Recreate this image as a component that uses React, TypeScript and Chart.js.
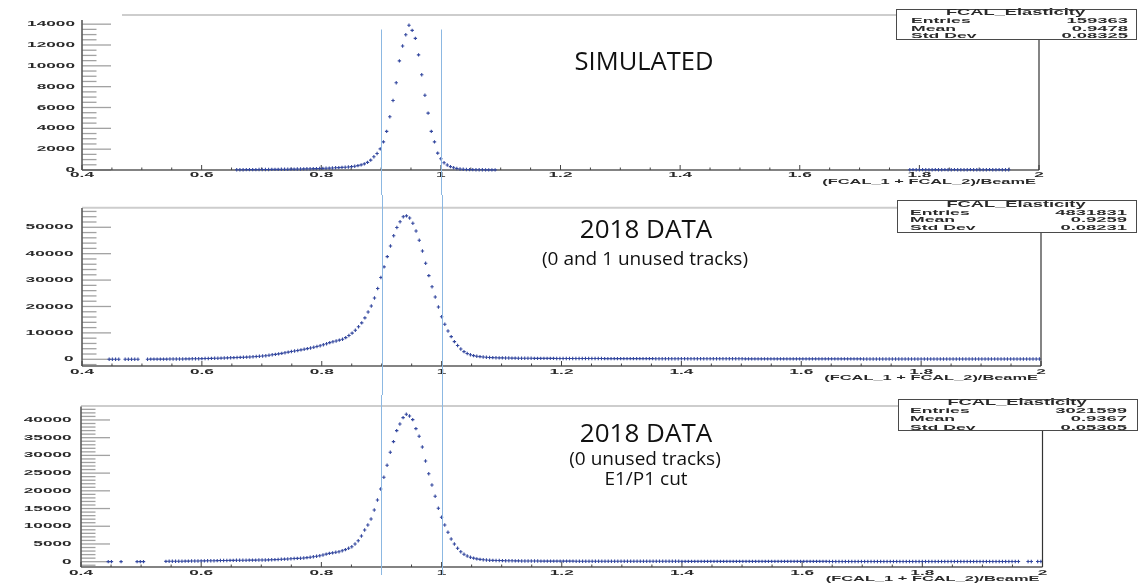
import React, { useEffect, useRef } from "react";
import { Chart, registerables } from "chart.js";

Chart.register(...registerables);

// ---------------- data ----------------
const X_MIN = 0.4;
const X_MAX = 2.0;
const N_BINS = 300;
const X_MAJOR = [0.4, 0.6, 0.8, 1.0, 1.2, 1.4, 1.6, 1.8, 2.0];
const X_MAJOR_LABELS = ["0.4", "0.6", "0.8", "1", "1.2", "1.4", "1.6", "1.8", "2"];
const X_MINOR_STEP = 0.05;
const CUT_VALUES = [0.9, 1.0];
const X_TITLE = "(FCAL_1 + FCAL_2)/BeamE";
const HIST_NAME = "FCAL_Elasticity";
const STAT_LABELS = ["Entries", "Mean", "Std Dev"];
const STAT_SIM = ["159363", "0.9478", "0.08325"];
const STAT_DATA01 = ["4831831", "0.9259", "0.08231"];
const STAT_DATA0 = ["3021599", "0.9367", "0.05305"];

const SIM_Y_TICKS = [0, 2000, 4000, 6000, 8000, 10000, 12000, 14000];
const DATA01_Y_TICKS = [0, 10000, 20000, 30000, 40000, 50000];
const DATA0_Y_TICKS = [0, 5000, 10000, 15000, 20000, 25000, 30000, 35000, 40000];

// SIMULATED: bins 48..129
const SIM_FIRST_BIN = 48;
const SIM_COUNTS: (number | null)[] = [
  25, 28, 30, 32, 35, 38, 40, 43, 46, 50, 53, 56,
  60, 64, 68, 72, 76, 82, 88, 95,
  102, 108, 114, 120, 128, 136, 145, 155, 166, 178,
  195, 210, 228, 248, 270, 295, 325, 365, 420, 490, 590, 730, 950, 1270,
  1590, 2030, 2700, 3710, 5110, 6670, 8380, 10480, 11900, 12980, 13900, 13400,
  12640, 11050, 9140, 7170, 5460, 3710, 2700, 1620, 1080, 700, 480, 320, 220, 150, 100, 70,
  50, 40, 32, 26, 22, 18, 15, 12, 10, 8,
];
// SIMULATED: high-side entries, bins 259..290
const SIM_HIGH_FIRST_BIN = 259;
const SIM_HIGH_COUNTS: (number | null)[] = [
  28, 32, 30, 26, 34, 30, 29, 31, 35, 27, 30, 33, 28, 30, 32, 29,
  31, 27, 30, 34, 29, 28, 31, 30, 26, 32, 30, 29, 33, 28, 30, 27,
];

// 2018 DATA (0 and 1 unused tracks): bins 8..299
const DATA01_FIRST_BIN = 8;
const DATA01_COUNTS: (number | null)[] = [
  30, 30, 30, 30, null, 30, 30, 30, 30, 30, null, null,
  40, 45, 50, 55, 60, 70, 80, 90, 100, 110, 120, 130, 145, 160, 180, 200,
  230, 250, 280, 310, 340, 380,
  410, 450, 490, 530, 580, 620, 670, 710, 760, 810, 870, 960, 1060, 1160, 1260, 1360,
  1530, 1700, 1880, 2060, 2250, 2450, 2700, 2950, 3150, 3350, 3550, 3800,
  4050, 4300, 4550, 4850, 5150, 5500, 5900, 6300, 6650, 6950, 7250, 7600,
  8200, 9000, 9900, 11000, 12300, 13800, 15700, 17900, 20200, 23200,
  26800, 31000, 35000, 38900, 42900, 46800, 49900, 52100, 54000, 54300, 53500, 51500,
  48600, 45100, 41000, 36400, 31700, 27500, 23600, 19800, 16100, 13300, 10700, 8600, 6700, 5200, 3900, 2900,
  2200, 1700, 1400, 1150, 1000, 880, 780, 700, 640, 590, 550, 520, 490, 470, 450, 430, 415, 400, 390, 380,
  372, 366, 361, 352, 349, 344, 338, 336, 328, 326,
  321, 314, 313, 306, 305, 299, 297, 290, 289, 284,
  283, 278, 276, 271, 271, 266, 263, 260, 258, 254,
  252, 249, 249, 245, 243, 241, 240, 237, 236, 233,
  232, 229, 228, 225, 224, 221, 220, 218, 215, 214,
  212, 209, 208, 205, 204, 202, 199, 198, 196, 193,
  192, 189, 188, 186, 183, 182, 180, 177, 176, 175,
  173, 173, 171, 170, 169, 167, 167, 166, 164, 164,
  163, 161, 161, 160, 158, 158, 157, 155, 155, 154,
  153, 151, 151, 150, 148, 148, 147, 145, 145, 144,
  143, 141, 141, 140, 138, 138, 137, 135, 135, 134,
  133, 131, 131, 130, 128, 128, 127, 125, 125, 124,
  123, 121, 121, 120, 118, 118, 117, 115, 115, 114,
  113, 111, 111, 110, 108, 108, 107, 105, 105, 104,
  103, 101, 101, 100, 98, 98, 97, 95, 95, 94,
  93, 91, 91, 90, 88, 88, 87, 85, 85, 84,
];

// 2018 DATA (0 unused tracks, E1/P1 cut): bins 8..299
const DATA0_FIRST_BIN = 8;
const DATA0_COUNTS: (number | null)[] = [
  30, 30, null, null, 30, null, null, null, null, 30, 30, 30,
  null, null, null, null, null, null,
  100, 105, 110, 120, 130, 140, 150, 160, 175, 190,
  210, 225, 240, 255, 270, 285, 300, 315, 330, 345,
  360, 375, 390, 400, 410, 420, 430, 440, 450, 460, 470, 480,
  510, 550, 590, 630, 670, 710, 760, 820, 880, 930, 980, 1060, 1150, 1240,
  1380, 1530, 1690, 1900, 2130, 2350, 2500, 2650, 2820, 3100, 3390, 3780, 4230,
  5000, 5930, 7260, 8950, 10360, 12050, 14600,
  17420, 20520, 23830, 27210, 30880, 33880, 36980, 38870, 40650, 41610, 41130, 40090,
  37550, 35400, 32380, 28430, 24840, 21650, 18460, 15070, 12530, 10360, 8300, 6410, 5000, 3780, 2820,
  2100, 1600, 1250, 1000, 800, 650, 550, 470, 420, 380, 350, 320, 300, 280, 260, 245, 230, 220, 210, 200, 190,
  182, 178, 176, 171, 169, 165, 163, 160, 157, 155,
  152, 150, 149, 146, 144, 142, 140, 139, 137, 135,
  133, 132, 130, 129, 127, 126, 124, 123, 121, 120,
  119, 118, 116, 115, 114, 113, 112, 111, 110, 109,
  108, 107, 106, 105, 104, 103, 102, 101, 100, 99,
  98, 98, 97, 96, 95, 95, 94, 93, 92, 92,
  91, 90, 90, 89, 88, 88, 87, 86, 86, 85,
  85, 84, 83, 83, 82, 82, 81, 81, 80, 80,
  79, 79, 78, 78, 77, 77, 76, 76, 75, 75,
  74, 74, 74, 73, 73, 72, 72, 72, 71, 71,
  70, 70, 70, 69, 69, 69, 68, 68, 68, 67,
  67, 67, 66, 66, 66, 65, 65, 65, 64, 64,
  64, 63, 63, 63, 62, 62, 62, 61, 61, 61,
  60, 60, 60, 59, 59, 59, 58, 58, 58, 57,
  57, 57, 56, 56, 56, 55, 55, 55, 54, 54,
  54, 53, 53, null, null, 52, 52, null, 51, 51,
];

// ---------------- styling / layout ----------------
const PAGE_W = 1138;
const PAGE_H = 588;
const MARKER = "#34489f";
const CUT_COLOR = "#8cb8e2";
const FRAME_GRAY = "#cdcdcd";
const TICK_GRAY = "#a2a2a2";
const AXIS_DARK = "#5a5a5a";
const TEXT_DARK = "#2a2a2a";
const ROOT_FONT = '"Liberation Sans", Arial, Helvetica, sans-serif';
const SLIDE_FONT = '"Open Sans", "Noto Sans", sans-serif';

type Segment = { first: number; counts: (number | null)[] };
type PanelSpec = {
  canvasTop: number;
  canvasHeight: number;
  area: { left: number; right: number; top: number; bottom: number };
  yMin: number;
  yMax: number;
  yMajor: number[];
  yMinorStep: number;
  yLabelRight: number;
  frameTopX0: number;
  frameTopY: number;
  box: { left: number; top: number; right: number; bottom: number; rows: number[]; labelX: number; valueX: number };
  stats: string[];
  xLabelY: number;
  xTitleY: number;
  cutTop: number;
  cutBottom: number;
  texts: { text: string; x: number; y: number; size: number }[];
  segments: Segment[];
};

const PANELS: PanelSpec[] = [
  {
    canvasTop: 0,
    canvasHeight: 195,
    area: { left: 82, right: 1039, top: 20, bottom: 170 },
    yMin: 0,
    yMax: 14400,
    yMajor: SIM_Y_TICKS,
    yMinorStep: 500,
    yLabelRight: 75,
    frameTopX0: 122,
    frameTopY: 15,
    box: { left: 896, top: 9, right: 1137, bottom: 40, rows: [12.7, 20.7, 28.3, 36], labelX: 911, valueX: 1128 },
    stats: STAT_SIM,
    xLabelY: 174.5,
    xTitleY: 181.5,
    cutTop: 29.5,
    cutBottom: 195,
    texts: [{ text: "SIMULATED", x: 644, y: 70, size: 25.5 }],
    segments: [
      { first: SIM_FIRST_BIN, counts: SIM_COUNTS },
      { first: SIM_HIGH_FIRST_BIN, counts: SIM_HIGH_COUNTS },
    ],
  },
  {
    canvasTop: 195,
    canvasHeight: 200,
    area: { left: 82, right: 1041, top: 208, bottom: 366 },
    yMin: -2540,
    yMax: 57300,
    yMajor: DATA01_Y_TICKS,
    yMinorStep: 2000,
    yLabelRight: 73.5,
    frameTopX0: 82,
    frameTopY: 207.7,
    box: { left: 897, top: 200, right: 1137, bottom: 233, rows: [204.3, 212.3, 220, 227.7], labelX: 910, valueX: 1127 },
    stats: STAT_DATA01,
    xLabelY: 371.5,
    xTitleY: 378,
    cutTop: 195,
    cutBottom: 395,
    texts: [
      { text: "2018 DATA", x: 646, y: 238, size: 26 },
      { text: "(0 and 1 unused tracks)", x: 645, y: 265, size: 19 },
    ],
    segments: [{ first: DATA01_FIRST_BIN, counts: DATA01_COUNTS }],
  },
  {
    canvasTop: 395,
    canvasHeight: 193,
    area: { left: 81, right: 1042.5, top: 406.5, bottom: 567 },
    yMin: -1500,
    yMax: 43800,
    yMajor: DATA0_Y_TICKS,
    yMinorStep: 1000,
    yLabelRight: 71.7,
    frameTopX0: 81,
    frameTopY: 406,
    box: { left: 898, top: 399, right: 1138, bottom: 431, rows: [402.7, 411, 419, 427.3], labelX: 910, valueX: 1127 },
    stats: STAT_DATA0,
    xLabelY: 573,
    xTitleY: 578.5,
    cutTop: 395,
    cutBottom: 575,
    texts: [
      { text: "2018 DATA", x: 646, y: 441.5, size: 26 },
      { text: "(0 unused tracks)", x: 645, y: 465, size: 19 },
      { text: "E1/P1 cut", x: 646, y: 485, size: 19 },
    ],
    segments: [{ first: DATA0_FIRST_BIN, counts: DATA0_COUNTS }],
  },
];

// ---------------- helpers ----------------
function binCenter(i: number) {
  return X_MIN + (i + 0.5) * ((X_MAX - X_MIN) / N_BINS);
}

function toPoints(segments: Segment[]) {
  const pts: { x: number; y: number }[] = [];
  for (const s of segments) {
    s.counts.forEach((c, k) => {
      if (c !== null && c !== undefined) pts.push({ x: binCenter(s.first + k), y: c });
    });
  }
  return pts;
}

function line(ctx: CanvasRenderingContext2D, x0: number, y0: number, x1: number, y1: number) {
  ctx.beginPath();
  ctx.moveTo(x0, y0);
  ctx.lineTo(x1, y1);
  ctx.stroke();
}

function stretched(
  ctx: CanvasRenderingContext2D,
  text: string,
  x: number,
  y: number,
  align: CanvasTextAlign,
  size: number,
  sx: number
) {
  ctx.save();
  ctx.font = `bold ${size}px ${ROOT_FONT}`;
  ctx.fillStyle = TEXT_DARK;
  ctx.textAlign = align;
  ctx.textBaseline = "middle";
  ctx.translate(x, y);
  ctx.scale(sx, 1);
  ctx.fillText(text, 0, 0);
  ctx.restore();
}

function makePlugin(p: PanelSpec) {
  const oy = p.canvasTop;
  return {
    id: "rootFrame",
    beforeDatasetsDraw(chart: any) {
      const { ctx, chartArea: a, scales } = chart;
      const xs = scales.x;
      const ys = scales.y;
      ctx.save();
      // top frame line
      ctx.strokeStyle = FRAME_GRAY;
      ctx.lineWidth = 2;
      line(ctx, p.frameTopX0, p.frameTopY - oy, p.box.left, p.frameTopY - oy);

      // y ticks (inside the frame)
      ctx.strokeStyle = TICK_GRAY;
      ctx.lineWidth = 1.3;
      const start = Math.ceil(p.yMin / p.yMinorStep) * p.yMinorStep;
      for (let v = start; v <= p.yMax + 1e-6; v += p.yMinorStep) {
        const y = ys.getPixelForValue(v);
        const major = p.yMajor.includes(v);
        line(ctx, a.left, y, a.left + (major ? 29 : 14.5), y);
      }
      // y axis
      ctx.strokeStyle = AXIS_DARK;
      ctx.lineWidth = 1.6;
      line(ctx, a.left, a.top, a.left, a.bottom);
      // y labels
      for (const v of p.yMajor) {
        stretched(ctx, String(v), p.yLabelRight, ys.getPixelForValue(v), "right", 7.5, 2.3);
      }

      // x axis
      ctx.strokeStyle = AXIS_DARK;
      ctx.lineWidth = 1.4;
      line(ctx, a.left, a.bottom, a.right, a.bottom);
      ctx.strokeStyle = "#444";
      ctx.lineWidth = 1;
      for (let k = 0; X_MIN + k * X_MINOR_STEP <= X_MAX + 1e-9; k++) {
        const v = X_MIN + k * X_MINOR_STEP;
        const x = xs.getPixelForValue(v);
        const major = k % 4 === 0;
        line(ctx, x, a.bottom, x, a.bottom - (major ? 5 : 2.5));
      }
      X_MAJOR.forEach((v, i) => {
        stretched(ctx, X_MAJOR_LABELS[i], xs.getPixelForValue(v), p.xLabelY - oy, "center", 7.5, 2.3);
      });
      stretched(ctx, X_TITLE, a.right - 3, p.xTitleY - oy, "right", 8, 2.05);
      ctx.restore();
    },
    afterDatasetsDraw(chart: any) {
      const { ctx, chartArea: a, scales } = chart;
      const xs = scales.x;
      ctx.save();
      // right frame line
      ctx.strokeStyle = "#333";
      ctx.lineWidth = 1.2;
      line(ctx, a.right, p.box.bottom - oy, a.right, a.bottom);

      // stats box
      const b = p.box;
      ctx.fillStyle = "#ffffff";
      ctx.fillRect(b.left, b.top - oy, b.right - b.left, b.bottom - b.top);
      ctx.strokeStyle = "#4a4a4a";
      ctx.lineWidth = 1;
      ctx.strokeRect(b.left + 0.5, b.top - oy + 0.5, b.right - b.left - 1, b.bottom - b.top - 1);
      stretched(ctx, HIST_NAME, (b.left + b.right) / 2 - 1, b.rows[0] - oy, "center", 8.5, 2.15);
      STAT_LABELS.forEach((lab, i) => {
        stretched(ctx, lab, b.labelX, b.rows[i + 1] - oy, "left", 8, 2.2);
        stretched(ctx, p.stats[i], b.valueX, b.rows[i + 1] - oy, "right", 8, 2.3);
      });

      // cut lines
      ctx.strokeStyle = CUT_COLOR;
      ctx.lineWidth = 1;
      for (const c of CUT_VALUES) {
        const x = Math.round(xs.getPixelForValue(c)) + 0.5;
        line(ctx, x, p.cutTop - oy, x, p.cutBottom - oy);
      }

      // slide annotations
      ctx.fillStyle = "#111";
      ctx.textAlign = "center";
      ctx.textBaseline = "alphabetic";
      for (const t of p.texts) {
        ctx.font = `${t.size}px ${SLIDE_FONT}`;
        ctx.fillText(t.text, t.x, t.y - oy);
      }
      ctx.restore();
    },
  };
}

function Panel({ spec }: { spec: PanelSpec }) {
  const ref = useRef<HTMLCanvasElement | null>(null);
  useEffect(() => {
    if (!ref.current) return;
    const a = spec.area;
    const chart = new Chart(ref.current, {
      type: "scatter",
      data: {
        datasets: [
          {
            data: toPoints(spec.segments),
            pointStyle: "cross",
            pointRadius: 1.7,
            pointHoverRadius: 1.7,
            borderColor: MARKER,
            backgroundColor: MARKER,
            borderWidth: 1.1,
            showLine: false,
            clip: false as any,
          },
        ],
      },
      options: {
        responsive: false,
        animation: false,
        events: [],
        layout: {
          padding: {
            left: a.left,
            right: PAGE_W - a.right,
            top: a.top - spec.canvasTop,
            bottom: spec.canvasTop + spec.canvasHeight - a.bottom,
          },
        },
        scales: {
          x: { type: "linear", min: X_MIN, max: X_MAX, display: false },
          y: { type: "linear", min: spec.yMin, max: spec.yMax, display: false },
        },
        plugins: {
          legend: { display: false },
          tooltip: { enabled: false },
          title: { display: false },
        },
      },
      plugins: [makePlugin(spec)],
    } as any);
    return () => chart.destroy();
  }, [spec]);
  return (
    <canvas
      ref={ref}
      width={PAGE_W}
      height={spec.canvasHeight}
      style={{
        position: "absolute",
        left: 0,
        top: spec.canvasTop,
        width: PAGE_W,
        height: spec.canvasHeight,
        display: "block",
      }}
    />
  );
}

export default function App() {
  return (
    <div
      style={{
        position: "absolute",
        left: 0,
        top: 0,
        width: PAGE_W,
        height: PAGE_H,
        background: "#ffffff",
        overflow: "hidden",
      }}
    >
      {PANELS.map((p, i) => (
        <Panel key={i} spec={p} />
      ))}
    </div>
  );
}
